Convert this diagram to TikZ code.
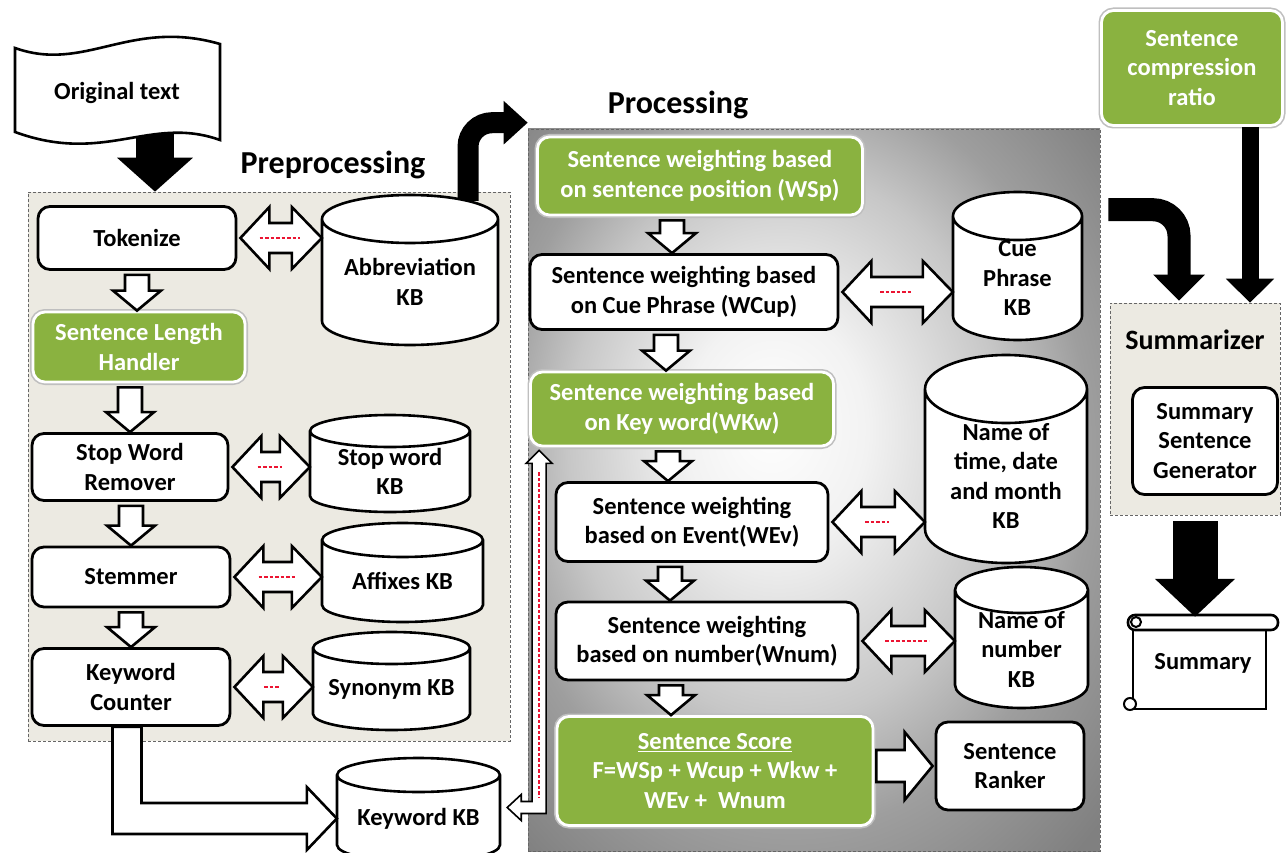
\documentclass[tikz,border=0pt]{standalone}
\usepackage{fontspec}
\setmainfont{Carlito}
\usepackage{tikz}
\tikzset{>=latex}
\usetikzlibrary{positioning,calc,arrows.meta}

\definecolor{leaf}{RGB}{138,178,64}
\definecolor{sand}{RGB}{236,234,226}
\definecolor{dashred}{RGB}{235,20,50}
\pgfdeclareradialshading{procshade}{\pgfpoint{-4bp}{5bp}}{color(0bp)=(white); color(8bp)=(white!95!black); color(19bp)=(black!22); color(26bp)=(black!38); color(36bp)=(black!50); color(50bp)=(black!50)}

\newcommand\bodyfont{\fontsize{24.5}{29.5}\selectfont\bfseries}
\newcommand\headfont{\fontsize{32}{38}\selectfont\bfseries}

% knowledge base drum: name, centre, half width, half height, rim, text
\newcommand\kbdrum[7]{%
  \draw[drumline] let \p1=(#2,#3) in
    (\x1-#4pt,\y1+#5pt-#6pt) -- (\x1-#4pt,\y1-#5pt+#6pt)
    arc[start angle=180,end angle=360,x radius=#4pt,y radius=#6pt]
    -- (\x1+#4pt,\y1+#5pt-#6pt)
    arc[start angle=0,end angle=180,x radius=#4pt,y radius=#6pt] -- cycle
    (\x1-#4pt,\y1+#5pt-#6pt)
    arc[start angle=180,end angle=360,x radius=#4pt,y radius=#6pt];
  \node[kbtext,minimum width=2*#4] (#1) at ($(#2,#3)+(0,#6/2)$) {#7};}

\newcommand\dnarrow[3][0]{%
  \draw[hollow] let \p1=(#2.south), \p2=($(#3.north)+(#1,0)$) in
    (\x2-12pt,\y1-4pt) -- (\x2+12pt,\y1-4pt) -- (\x2+12pt,\y2+20pt)
    -- (\x2+24pt,\y2+20pt) -- (\x2,\y2) -- (\x2-24pt,\y2+20pt)
    -- (\x2-12pt,\y2+20pt) -- cycle;}

\newcommand\dblarrow[3][16]{%
  \draw[hollow] let \p1=(#2.east), \p2=(#3.west) in
    (\x1+3pt,\y1) -- (\x1+32pt,\y1+31pt) -- (\x1+32pt,\y1+15pt)
    -- (\x2-30pt,\y1+15pt) -- (\x2-30pt,\y1+31pt) -- (\x2,\y1)
    -- (\x2-30pt,\y1-31pt) -- (\x2-30pt,\y1-15pt) -- (\x1+32pt,\y1-15pt)
    -- (\x1+32pt,\y1-31pt) -- cycle;
  \draw[redline] let \p1=(#2.east), \p2=(#3.west), \n1={(\x1+\x2)/2} in
    (\n1-#1pt,\y1) -- (\n1+#1pt,\y1);}

\begin{document}
\begin{tikzpicture}[x=1pt,y=-1pt,
    panel/.style={draw=black!60,densely dashed,line width=0.6pt,inner sep=0},
    box/.style={draw=black,line width=2.8pt,rounded corners=12pt,fill=white,
                align=center,font=\bodyfont,inner sep=2pt},
    greenbox/.style={box,draw=white,fill=leaf,text=white,
                preaction={draw=black!25,line width=6pt}},
    hollow/.style={draw=black,line width=2.6pt,fill=white,line join=miter},
    redline/.style={draw=dashred,line width=1.5pt,dash pattern=on 3.5pt off 2pt},
    drumline/.style={draw=black,line width=2.6pt,fill=white},
    kbtext/.style={align=center,font=\bodyfont,inner sep=0}
  ]
\fill[white] (0,0) rectangle (1287,853);
\useasboundingbox (0,0) rectangle (1287,853);

\node[panel,fill=sand,minimum width=482,minimum height=549] (pre) at (269,466.5) {};
\node[panel,shade,shading=procshade,minimum width=572,minimum height=722] (proc) at (814,490) {};
\node[panel,fill=sand,minimum width=170,minimum height=212] (summ) at (1195,409) {};

\node[font=\headfont] (pretitle) at (333,165) {Preprocessing};
\node[font=\headfont] (proctitle) at (678,105) {Processing};
\node[font=\fontsize{28}{34}\selectfont\bfseries] (summtitle) at (1195,340) {Summarizer};

\coordinate (otail) at (155,128);
\coordinate (atail) at (468,201);
\coordinate (ptail) at ($(proc.north east)+(8,81)$);
\draw[line width=38pt,-{Triangle[width=74pt,length=34pt]}] (otail) -- (otail |- pre.north);
\draw[line width=21pt,rounded corners=24pt,-{Triangle[width=42pt,length=24pt]}]
    (atail) |- ($(proc.north west)+(0,-6)$);
\draw[line width=23pt,rounded corners=26pt,-{Triangle[width=50pt,length=26pt]}]
    (ptail) -| ($(summ.north)+(-16,-2)$);

\draw[drumline] (15,48) .. controls (85,73) and (130,18) .. (220,44) -- (220,140)
    .. controls (150,115) and (105,165) .. (15,132) -- cycle;
\node[font=\bodyfont] (orig) at (117,93) {Original text};

\kbdrum{abkb}{410}{270}{88}{75}{24}{Abbreviation\\KB}
\kbdrum{swkb}{390}{463.5}{80}{48.5}{16}{Stop word\\KB}
\kbdrum{afkb}{402.5}{572.5}{80.5}{49.5}{17}{Affixes KB}
\kbdrum{sykb}{391.5}{681}{78.5}{49}{16}{Synonym KB}
\kbdrum{kwkb}{418.5}{810}{81.5}{52}{17}{Keyword KB}
\kbdrum{cuekb}{1017.5}{266}{64.5}{74}{24}{Cue\\Phrase\\KB}
\kbdrum{timekb}{1006}{459}{81}{104}{34}{Name of\\time, date\\and month\\KB}
\kbdrum{numkb}{1021.5}{637.5}{66.5}{70.5}{23}{Name of\\number\\KB}

\node[box,minimum width=198,minimum height=63] (tok) at (137,238) {Tokenize};
\node[greenbox,minimum width=212,minimum height=70] (slh) at (139,347) {Sentence Length\\Handler};
\node[box,minimum width=196,minimum height=67] (swr) at (130,467) {Stop Word\\Remover};
\node[box,minimum width=198,minimum height=60] (stem) at (131,577) {Stemmer};
\node[box,minimum width=198,minimum height=77] (kwc) at (131,687) {Keyword\\Counter};

\node[greenbox,minimum width=325,minimum height=78] (wsp) at (700,176) {Sentence weighting based\\on sentence position (WSp)};
\node[box,minimum width=308,minimum height=75] (wcup) at (684,292) {Sentence weighting based\\on Cue Phrase (WCup)};
\node[greenbox,minimum width=303,minimum height=74] (wkw) at (682,409) {Sentence weighting based\\on Key word(WKw)};
\node[box,minimum width=272,minimum height=79] (wev) at (692,522) {Sentence weighting\\based on Event(WEv)};
\node[box,minimum width=302,minimum height=78] (wnum) at (707,641) {Sentence weighting\\based on number(Wnum)};
\node[greenbox,minimum width=316,minimum height=109] (score) at (715,771) {\underline{Sentence Score}\\F=WSp + Wcup + Wkw +\\WEv +\ \ Wnum};
\node[box,minimum width=148,minimum height=88] (rank) at (1010,766) {Sentence\\Ranker};

\node[box,minimum width=145,minimum height=107] (gen) at (1205,441) {Summary\\Sentence\\Generator};
\node[greenbox,minimum width=181,minimum height=115] (ratio) at (1192,68) {Sentence\\compression\\ratio};

\draw[drumline] (1133,624) rectangle (1266,709);
\draw[drumline,rounded corners=7pt] (1128,615) rectangle (1278,630);
\draw[drumline,line width=2pt] (1136,622) circle[radius=5pt];
\draw[drumline,line width=2pt] (1130,704) circle[radius=6pt];
\node[font=\bodyfont,minimum width=148,minimum height=92,inner sep=0] (doc) at (1203,663) {Summary};

\coordinate (rtail) at ($(ratio.south)+(58,0)$);
\coordinate (stail) at ($(summ.south)+(0,6)$);
\draw[line width=17pt,-{Triangle[width=47pt,length=24pt]}] (rtail) -- (rtail |- summ.north);
\draw[line width=45pt,-{Triangle[width=78pt,length=38pt]}] (stail) -- (stail |- doc.north);

\dnarrow[-2]{tok}{slh}
\dnarrow{slh}{swr}
\dnarrow{swr}{stem}
\dnarrow{stem}{kwc}
\dnarrow[-12]{wsp}{wcup}
\dnarrow[-16]{wcup}{wkw}
\dnarrow[-24]{wkw}{wev}
\dnarrow[-37]{wev}{wnum}
\dnarrow[-44]{wnum}{score}

\dblarrow[20]{tok}{abkb}
\dblarrow[12]{swr}{swkb}
\dblarrow[18]{stem}{afkb}
\dblarrow[8]{kwc}{sykb}
\dblarrow[16]{wcup}{cuekb}
\dblarrow[12]{wev}{timekb}
\dblarrow[22]{wnum}{numkb}

\draw[hollow] let \p1=(score.east), \p2=(rank.west) in
    (\x1+2pt,\y2+16pt) -- (\x2-30pt,\y2+16pt) -- (\x2-30pt,\y2+34pt) -- (\x2-2pt,\y2)
    -- (\x2-30pt,\y2-34pt) -- (\x2-30pt,\y2-16pt) -- (\x1+2pt,\y2-16pt) -- cycle;

\draw[hollow] let \p1=($(kwc.south)+(-4,0)$), \p2=(kwkb.west) in
    (\x1-14.5pt,\y1) -- (\x1+14.5pt,\y1) -- (\x1+14.5pt,\y2+15.5pt)
    -- (\x2-30pt,\y2+15.5pt) -- (\x2-30pt,\y2+31.5pt) -- (\x2,\y2)
    -- (\x2-30pt,\y2-31.5pt) -- (\x2-30pt,\y2-15.5pt) -- (\x1-14.5pt,\y2-15.5pt) -- cycle;

\draw[hollow,line width=1.6pt] let \p1=($(wkw.south west)+(10,3)$), \p2=($(kwkb.east)+(7,-11)$) in
    (\x1,\y1) -- (\x1+13pt,\y1-13pt) -- (\x1+7pt,\y1-13pt) -- (\x1+7pt,\y2-6pt)
    -- (\x2+14pt,\y2-6pt) -- (\x2+14pt,\y2-13pt) -- (\x2,\y2) -- (\x2+14pt,\y2+13pt)
    -- (\x2+14pt,\y2+6pt) -- (\x1-7pt,\y2+6pt) -- (\x1-7pt,\y1-13pt) -- (\x1-13pt,\y1-13pt) -- cycle;
\draw[redline] let \p1=($(wkw.south west)+(10,3)$), \p2=($(kwkb.east)+(7,-11)$) in
    (\x1,\y1-22pt) -- (\x1,\y2+10pt);
\end{tikzpicture}
\end{document}
